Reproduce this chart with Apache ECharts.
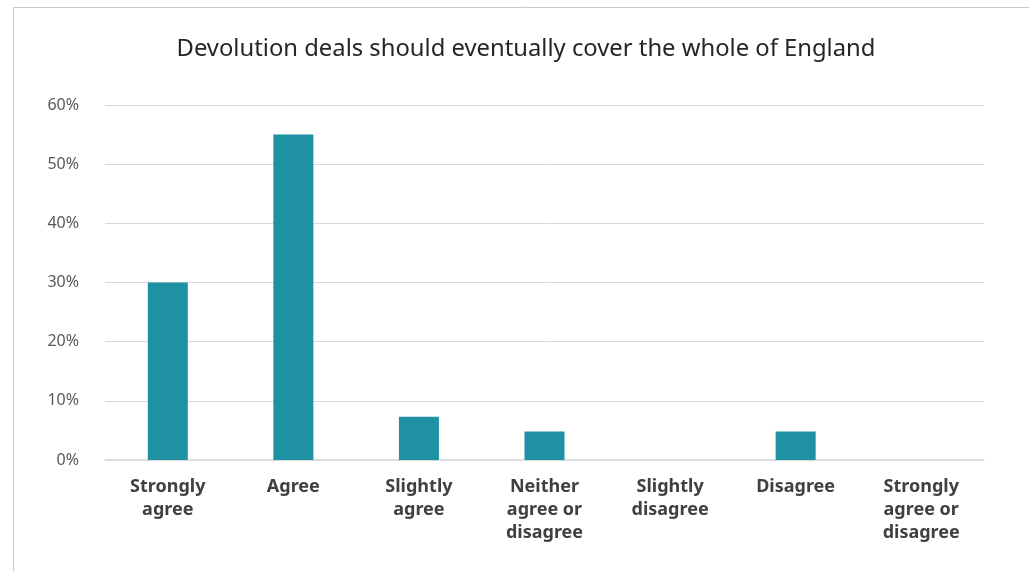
<!DOCTYPE html>
<html>
<head>
<meta charset="utf-8">
<script src="https://cdn.jsdelivr.net/npm/echarts@6/dist/echarts.min.js"></script>
<style>
  html, body { margin: 0; padding: 0; background: #ffffff; }
  #chart { width: 1029px; height: 571px; }
</style>
</head>
<body>
<div id="chart"></div>
<script>
// Survey responses: share of respondents per answer
const titleText = 'Devolution deals should eventually cover the whole of England';
const categories = [
  'Strongly\nagree',
  'Agree',
  'Slightly\nagree',
  'Neither\nagree or\ndisagree',
  'Slightly\ndisagree',
  'Disagree',
  'Strongly\nagree or\ndisagree'
];
const shares = [30, 55, 7.3, 4.8, 0, 4.8, 0];
const yTicks = [0, 10, 20, 30, 40, 50, 60];

const FONT = '"Noto Sans", "Open Sans", sans-serif';

const chart = echarts.init(document.getElementById('chart'), null, { renderer: 'canvas' });
chart.setOption({
  backgroundColor: '#ffffff',
  animation: false,
  graphic: [{
    type: 'rect',
    left: 11, top: 5,
    shape: { x: 0, y: 0, width: 1100, height: 700 },
    style: { fill: 'none', stroke: '#c8c8c8', lineWidth: 1 },
    silent: true
  }],
  title: {
    text: titleText,
    left: 521,
    top: 32,
    textAlign: 'center',
    textStyle: { fontFamily: FONT, fontSize: 23.8, fontWeight: 'normal', color: '#262626' }
  },
  grid: { left: 105, right: 45, top: 105, bottom: 111, containLabel: false },
  xAxis: {
    type: 'category',
    data: categories,
    axisLine: { show: true, lineStyle: { color: '#d9d9d9', width: 1.5 } },
    axisTick: { show: false },
    axisLabel: {
      interval: 0,
      margin: 15,
      fontFamily: FONT,
      fontSize: 18,
      fontWeight: 'bold',
      lineHeight: 23,
      color: '#404040'
    }
  },
  yAxis: {
    type: 'value',
    min: yTicks[0],
    max: yTicks[yTicks.length - 1],
    interval: 10,
    axisLine: { show: false },
    axisTick: { show: false },
    splitLine: { lineStyle: { color: '#d9d9d9', width: 1 } },
    axisLabel: {
      margin: 26,
      fontFamily: FONT,
      fontSize: 16,
      color: '#595959',
      formatter: v => v + '%'
    }
  },
  series: [{
    type: 'bar',
    data: shares,
    barWidth: 40,
    itemStyle: { color: '#1e91a2' }
  }]
});
</script>
</body>
</html>
